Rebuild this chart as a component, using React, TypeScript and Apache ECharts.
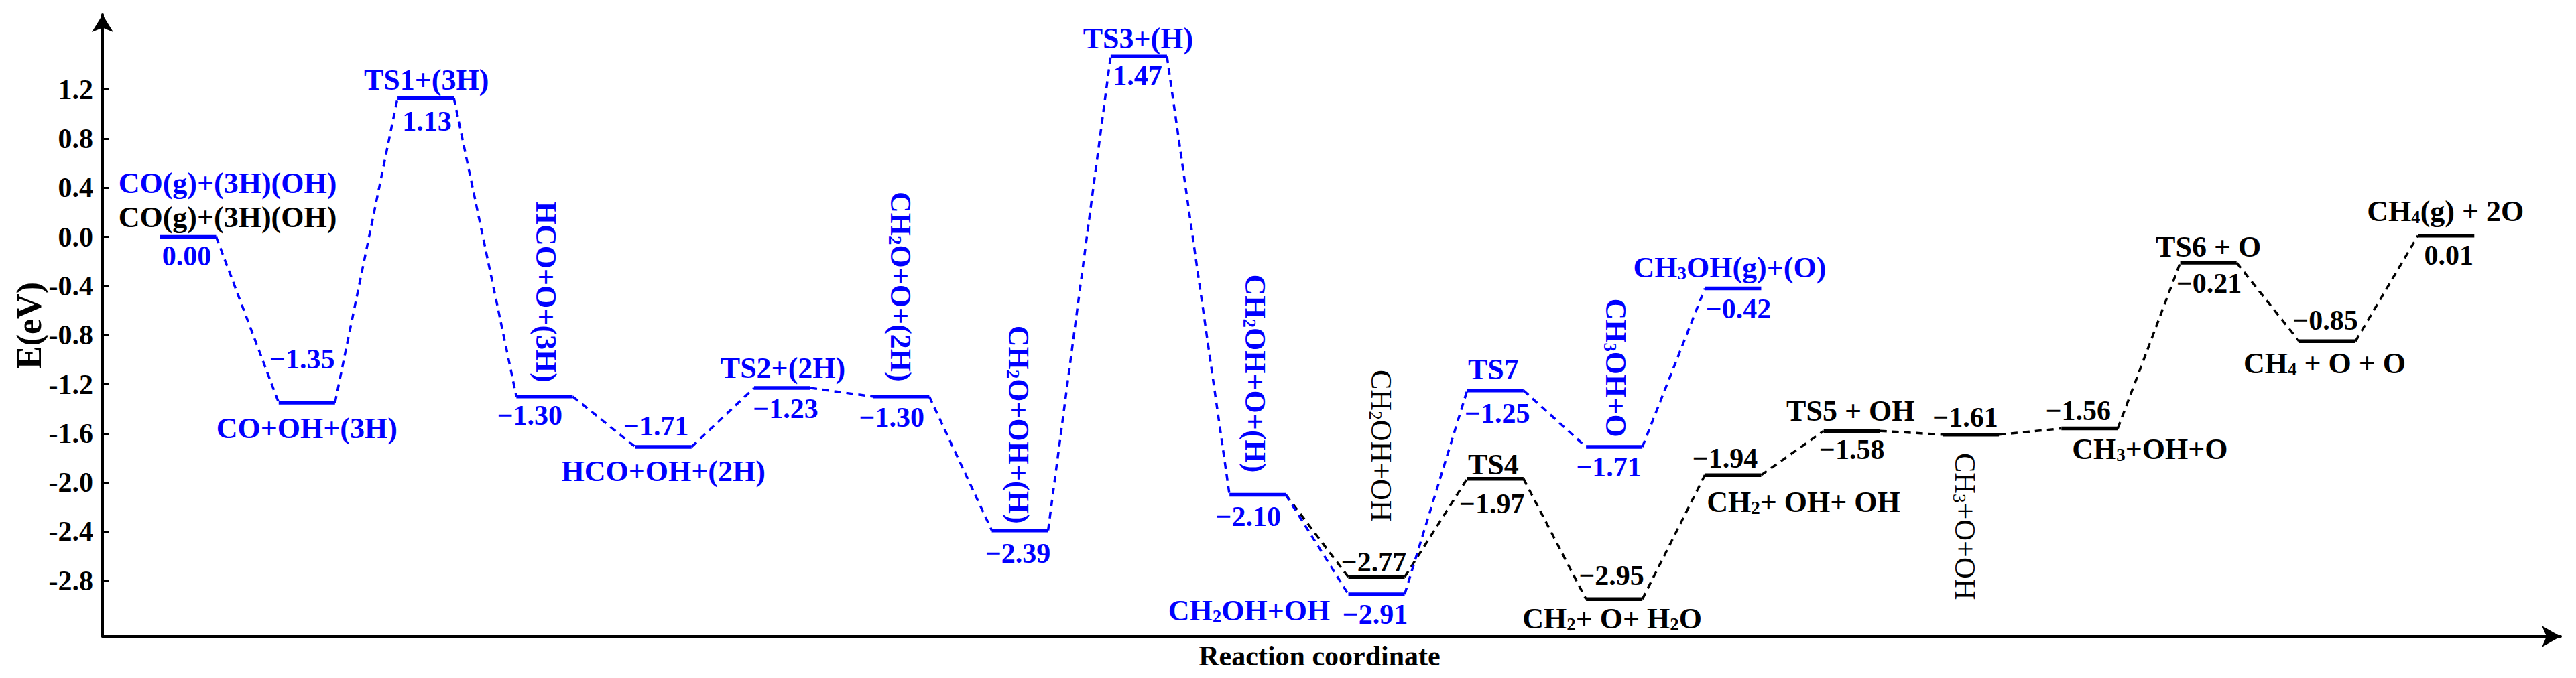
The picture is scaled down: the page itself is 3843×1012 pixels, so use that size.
import React, { useEffect, useRef } from "react";
import * as echarts from "echarts";

// ---------------- data ----------------
// Blue pathway: CO(g) -> CH3OH(g)
const blueSteps = [0, 1, 2, 3, 4, 5, 6, 7, 8, 9, 10, 11, 12, 13];
const blueValues = [0.0, -1.35, 1.13, -1.3, -1.71, -1.23, -1.3, -2.39, 1.47, -2.1, -2.91, -1.25, -1.71, -0.42];
const blueNames = [
  "CO(g)+(3H)(OH)",
  "CO+OH+(3H)",
  "TS1+(3H)",
  "HCO+O+(3H)",
  "HCO+OH+(2H)",
  "TS2+(2H)",
  "CH2O+O+(2H)",
  "CH2O+OH+(H)",
  "TS3+(H)",
  "CH2OH+O+(H)",
  "CH2OH+OH",
  "TS7",
  "CH3OH+O",
  "CH3OH(g)+(O)",
];

// Black pathway: branches from blue step 9, CH2OH+OH -> CH4(g)
const blackBranchFrom = 9;
const blackSteps = [10, 11, 12, 13, 14, 15, 16, 17, 18, 19];
const blackValues = [-2.77, -1.97, -2.95, -1.94, -1.58, -1.61, -1.56, -0.21, -0.85, 0.01];
const blackNames = [
  "CH2OH+OH",
  "TS4",
  "CH2+ O+ H2O",
  "CH2+ OH+ OH",
  "TS5 + OH",
  "CH3+O+OH",
  "CH3+OH+O",
  "TS6 + O",
  "CH4 + O + O",
  "CH4(g) + 2O",
];
const blackStartName = "CO(g)+(3H)(OH)";

const yTickValues = [-2.8, -2.4, -2.0, -1.6, -1.2, -0.8, -0.4, 0.0, 0.4, 0.8, 1.2];
const xAxisName = "Reaction coordinate";
const yAxisName = "E(eV)";

// ---------------- layout / style ----------------
const FONT = '"Liberation Serif", "Times New Roman", Times, serif';
const BLUE = "#0000ff";
const BLACK = "#000000";
const HALF = 0.237; // half width of an energy level, in step units
const X_MIN = -0.719;
const X_MAX = 19.963;
const Y_MIN = -3.254;
const Y_MAX = 1.809;

// [dx, dy, vertical(1/0), bold(1/0)] relative to level centre, pixels
const blueNameLayout = [
  [59, -80, 0, 1],
  [0, 38, 0, 1],
  [1, -27, 0, 1],
  [2, -156, 1, 1],
  [0, 37, 0, 1],
  [1, -30, 0, 1],
  [-1, -164, 1, 1],
  [-2, -158, 1, 1],
  [-1, -27, 0, 1],
  [-4, -181, 1, 1],
  [-190, 25, 0, 1],
  [-3, -31, 0, 1],
  [2, -118, 1, 1],
  [-5, -31, 0, 1],
];
const blueValueLayout = [
  [-2, 28], [-7, -65], [2, 35], [-22, 28], [-11, -31], [5, 31], [-14, 31],
  [-3, 34], [-2, 29], [-14, 33], [-2, 30], [3, 34], [-8, 30], [8, 30],
];
const blackNameLayout = [
  [7, -196, 1, 0],
  [-3, -21, 0, 1],
  [-3, 29, 0, 1],
  [105, 40, 0, 1],
  [-2, -30, 0, 1],
  [-9, 137, 1, 0],
  [90, 31, 0, 1],
  [0, -24, 0, 1],
  [-4, 33, 0, 1],
  [-1, -36, 0, 1],
];
const blackValueLayout = [
  [-4, -22], [-5, 37], [-4, -35], [-12, -25], [0, 28], [-8, -26],
  [-17, -27], [1, 31], [-3, -31], [4, 29],
];
const blackStartLayout = [59, -29];

const NAME_SIZE = 44;
const VALUE_SIZE = 42;

function fmtValue(v: number): string {
  return (v < 0 ? "\u2212" : "") + Math.abs(v).toFixed(2);
}
function richName(name: string): string {
  return name.replace(/H(\d)/g, "H{s|$1}");
}

function textEl(
  x: number,
  y: number,
  text: string,
  color: string,
  size: number,
  bold: boolean,
  vertical: boolean
) {
  const weight = bold ? "bold" : "normal";
  return {
    type: "text",
    x,
    y,
    rotation: vertical ? -Math.PI / 2 : 0,
    style: {
      text,
      fill: color,
      fontFamily: FONT,
      fontSize: size,
      fontWeight: weight,
      align: "center",
      verticalAlign: "middle",
      rich: {
        s: {
          fill: color,
          fontFamily: FONT,
          fontSize: Math.round(size * 0.62),
          fontWeight: weight,
          verticalAlign: "bottom",
        },
      },
    },
  };
}

function makeRender(
  steps: number[],
  values: number[],
  names: string[],
  nameLayout: number[][],
  valueLayout: number[][],
  color: string,
  prevFirst: number[] | null
) {
  return (params: any, api: any) => {
    const i = params.dataIndex;
    const x = steps[i];
    const v = values[i];
    const a = api.coord([x - HALF, v]);
    const b = api.coord([x + HALF, v]);
    const c = api.coord([x, v]);
    const children: any[] = [];
    const prev = i > 0 ? [steps[i - 1], values[i - 1]] : prevFirst;
    if (prev) {
      const p = api.coord([prev[0] + HALF, prev[1]]);
      children.push({
        type: "line",
        shape: { x1: p[0], y1: p[1], x2: a[0], y2: a[1] },
        style: { stroke: color, lineWidth: 3.5, lineDash: [10, 8], fill: null },
      });
    }
    children.push({
      type: "line",
      shape: { x1: a[0], y1: a[1], x2: b[0], y2: b[1] },
      style: { stroke: color, lineWidth: 5.5, fill: null },
    });
    const nl = nameLayout[i];
    children.push(
      textEl(c[0] + nl[0], c[1] + nl[1], richName(names[i]), color, NAME_SIZE, !!nl[3], !!nl[2])
    );
    const vl = valueLayout[i];
    children.push(textEl(c[0] + vl[0], c[1] + vl[1], fmtValue(v), color, VALUE_SIZE, true, false));
    return { type: "group", children };
  };
}

export default function App() {
  const ref = useRef<HTMLDivElement>(null);
  useEffect(() => {
    if (!ref.current) return;
    const chart = echarts.init(ref.current, null, { renderer: "svg" });
    const option: any = {
      animation: false,
      backgroundColor: "#ffffff",
      grid: { left: 153, right: 23, top: 22, bottom: 62, containLabel: false, outerBoundsMode: "none" },
      xAxis: {
        type: "value",
        min: X_MIN,
        max: X_MAX,
        name: xAxisName,
        nameLocation: "middle",
        nameGap: 8,
        nameMoveOverlap: false,
        nameTextStyle: {
          fontFamily: FONT,
          fontSize: 42,
          fontWeight: "bold",
          color: BLACK,
          padding: [0, 36, 0, 0],
        },
        axisLine: {
          show: true,
          onZero: false,
          symbol: ["none", "arrow"],
          symbolSize: [24, 28],
          lineStyle: { color: BLACK, width: 4 },
        },
        axisTick: { show: false },
        axisLabel: { show: false },
        splitLine: { show: false },
      },
      yAxis: {
        type: "value",
        min: Y_MIN,
        max: Y_MAX,
        name: yAxisName,
        nameLocation: "middle",
        nameRotate: 90,
        nameGap: 84,
        nameMoveOverlap: false,
        nameTextStyle: { fontFamily: FONT, fontSize: 52, fontWeight: "bold", color: BLACK },
        axisLine: {
          show: true,
          onZero: false,
          symbol: ["none", "arrow"],
          symbolSize: [24, 26],
          lineStyle: { color: BLACK, width: 4 },
        },
        axisTick: {
          show: true,
          inside: true,
          length: 10,
          customValues: yTickValues,
          lineStyle: { color: BLACK, width: 3 },
        },
        axisLabel: {
          show: true,
          margin: 14,
          customValues: yTickValues,
          formatter: (v: number) => Number(v).toFixed(1),
          fontFamily: FONT,
          fontSize: 42,
          fontWeight: "bold",
          color: BLACK,
        },
        splitLine: { show: false },
      },
      series: [
        {
          type: "custom",
          name: "black",
          data: blackSteps.map((s, k) => [s, blackValues[k]]),
          encode: { x: 0, y: 1 },
          renderItem: makeRender(
            blackSteps,
            blackValues,
            blackNames,
            blackNameLayout,
            blackValueLayout,
            BLACK,
            [blueSteps[blackBranchFrom], blueValues[blackBranchFrom]]
          ),
          z: 2,
        },
        {
          type: "custom",
          name: "blue",
          data: blueSteps.map((s, k) => [s, blueValues[k]]),
          encode: { x: 0, y: 1 },
          renderItem: makeRender(blueSteps, blueValues, blueNames, blueNameLayout, blueValueLayout, BLUE, null),
          z: 3,
        },
        {
          type: "custom",
          name: "black-start",
          data: [[blueSteps[0], blueValues[0]]],
          encode: { x: 0, y: 1 },
          renderItem: (params: any, api: any) => {
            const c = api.coord([blueSteps[0], blueValues[0]]);
            return textEl(
              c[0] + blackStartLayout[0],
              c[1] + blackStartLayout[1],
              richName(blackStartName),
              BLACK,
              NAME_SIZE,
              true,
              false
            );
          },
          z: 3,
        },
      ],
    };
    chart.setOption(option);
    return () => chart.dispose();
  }, []);
  return (
    <div
      ref={ref}
      style={{ position: "absolute", left: 0, top: 0, width: 3843, height: 1012, background: "#fff" }}
    />
  );
}
